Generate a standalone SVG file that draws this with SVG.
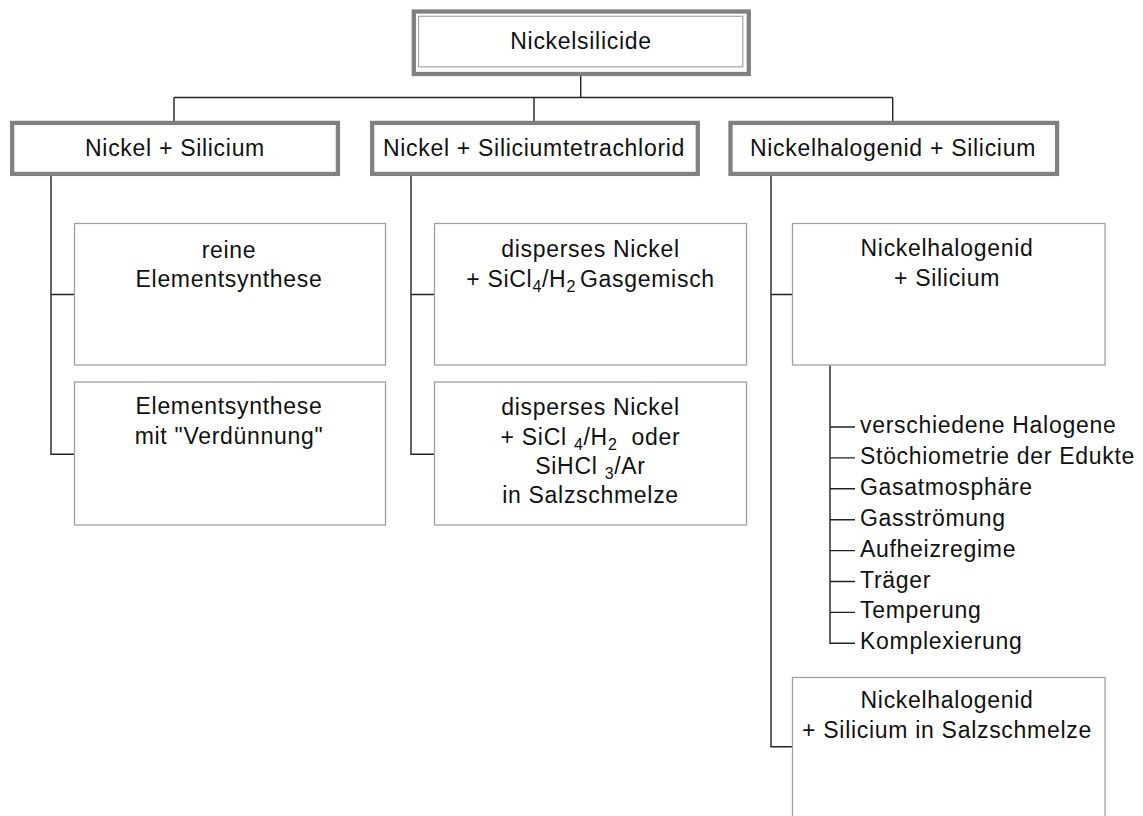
<svg xmlns="http://www.w3.org/2000/svg" width="1143" height="816" viewBox="0 0 1143 816">
<style>
  text { font-family: "Liberation Sans", Arial, sans-serif; font-size: 23px; letter-spacing: 0.7px; fill: #111; }
  .c { text-anchor: middle; }
  .sub { font-size: 16px; }
  .thick { fill: #fff; stroke: #808080; stroke-width: 4.3; }
  .thin { fill: none; stroke: #a6a6a6; stroke-width: 1.2; }
  .box { fill: #fff; stroke: #a0a0a0; stroke-width: 1.3; }
  .conn { fill: none; stroke: #222; stroke-width: 1.4; }
</style>
<rect width="1143" height="816" fill="#fff"/>

<g id="connectors" class="conn">
  <path d="M580.7,76 V97.5 M174,97.5 H892.7 M174,97.5 V121 M534,97.5 V121 M892.7,97.5 V121"/>
  <path d="M51,176 V454.3 H74.5 M51,294.5 H74.5"/>
  <path d="M411,176 V454.3 H434.5 M411,294.5 H434.5"/>
  <path d="M771,176 V746.7 H792.5 M771,294.5 H792.5"/>
  <path d="M830,365 V643.3 H855 M830,427 H855 M830,457.9 H855 M830,488.8 H855 M830,519.7 H855 M830,550.6 H855 M830,581.5 H855 M830,612.4 H855"/>
</g>

<g id="root">
  <rect class="thick" x="413.8" y="11.5" width="335" height="62.5"/>
  <rect class="thin" x="418.5" y="16.3" width="324.3" height="50.5"/>
  <text class="c" x="581" y="48.5">Nickelsilicide</text>
</g>

<g id="cat1">
  <rect class="thick" x="12.2" y="122.9" width="325.7" height="51"/>
  <text class="c" x="175" y="156">Nickel + Silicium</text>
</g>
<g id="cat2">
  <rect class="thick" x="372.2" y="122.9" width="325.6" height="51"/>
  <text class="c" x="534" y="156">Nickel + Siliciumtetrachlorid</text>
</g>
<g id="cat3">
  <rect class="thick" x="730.5" y="122.9" width="326.6" height="51"/>
  <text class="c" x="893" y="156">Nickelhalogenid + Silicium</text>
</g>

<g id="c1a">
  <rect class="box" x="74.5" y="223.5" width="311" height="141.5"/>
  <text class="c" x="229" y="257.7">reine</text>
  <text class="c" x="229" y="287.3">Elementsynthese</text>
</g>
<g id="c1b">
  <rect class="box" x="74.5" y="382" width="311" height="143"/>
  <text class="c" x="229" y="414">Elementsynthese</text>
  <text class="c" x="229" y="443.5">mit "Verdünnung"</text>
</g>

<g id="c2a">
  <rect class="box" x="434.5" y="223.5" width="312" height="141.5"/>
  <text class="c" x="590.5" y="256.7">disperses Nickel</text>
  <text class="c" x="590.5" y="286.7">+ SiCl<tspan class="sub" dy="5">4</tspan><tspan dy="-5">/H</tspan><tspan class="sub" dy="5">2</tspan><tspan dy="-5" dx="4">Gasgemisch</tspan></text>
</g>
<g id="c2b">
  <rect class="box" x="434.5" y="382" width="312" height="143"/>
  <text class="c" x="590.5" y="415">disperses Nickel</text>
  <text class="c" x="590.5" y="445">+ SiCl <tspan class="sub" dy="5">4</tspan><tspan dy="-5">/H</tspan><tspan class="sub" dy="5">2</tspan><tspan dy="-5" dx="14">oder</tspan></text>
  <text class="c" x="590.5" y="473.5">SiHCl <tspan class="sub" dy="5">3</tspan><tspan dy="-5">/Ar</tspan></text>
  <text class="c" x="590.5" y="503.3">in Salzschmelze</text>
</g>

<g id="c3a">
  <rect class="box" x="792.5" y="223.5" width="312.5" height="141.5"/>
  <text class="c" x="947" y="255.7">Nickelhalogenid</text>
  <text class="c" x="947" y="285.7">+ Silicium</text>
</g>

<g id="params">
  <text x="860" y="433">verschiedene Halogene</text>
  <text x="860" y="463.9">Stöchiometrie der Edukte</text>
  <text x="860" y="494.8">Gasatmosphäre</text>
  <text x="860" y="525.7">Gasströmung</text>
  <text x="860" y="556.6">Aufheizregime</text>
  <text x="860" y="587.5">Träger</text>
  <text x="860" y="618.4">Temperung</text>
  <text x="860" y="649.3">Komplexierung</text>
</g>

<g id="c3b">
  <rect class="box" x="792.5" y="677.5" width="312.5" height="160"/>
  <text class="c" x="947" y="708.3">Nickelhalogenid</text>
  <text class="c" x="947" y="738.3">+ Silicium in Salzschmelze</text>
</g>
</svg>
